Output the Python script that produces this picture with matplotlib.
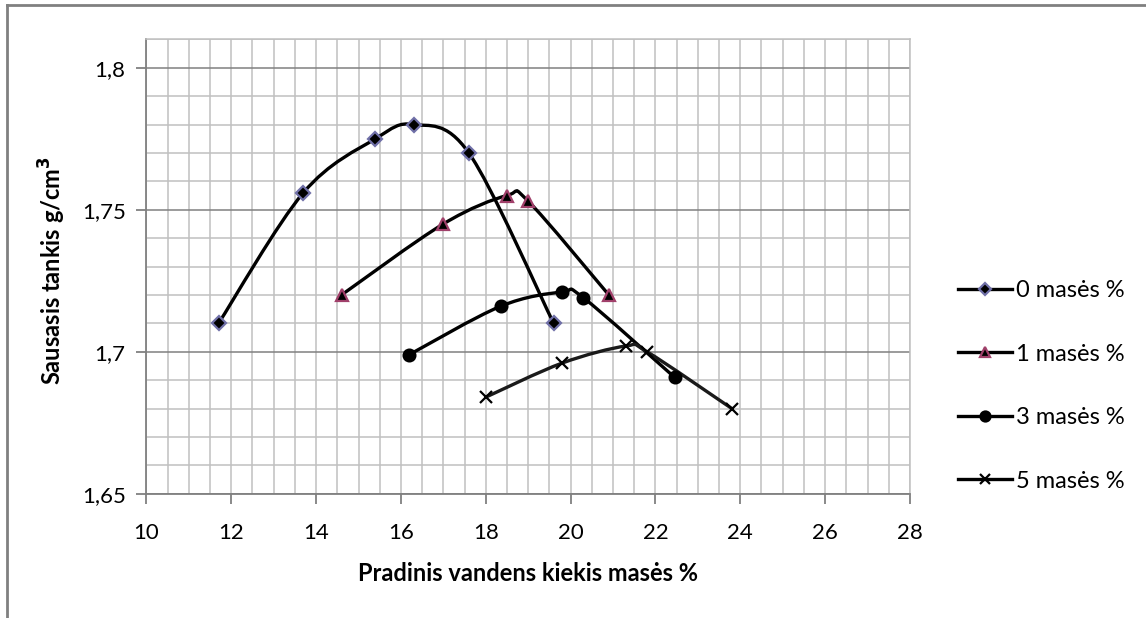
import matplotlib
matplotlib.use('Agg')
import matplotlib.pyplot as plt
import numpy as np
from matplotlib.path import Path
from matplotlib.patches import PathPatch
from matplotlib.lines import Line2D
from matplotlib.ticker import MultipleLocator, FuncFormatter

plt.rcParams['font.family'] = ['Lato', 'DejaVu Sans']

# pradiniai duomenys
x0 = [11.7, 13.7, 15.4, 16.3, 17.6, 19.6]
y0 = [1.710, 1.756, 1.775, 1.780, 1.770, 1.710]
x1 = [14.6, 17.0, 18.5, 19.0, 20.9]
y1 = [1.720, 1.745, 1.755, 1.753, 1.720]
x3 = [16.2, 18.35, 19.8, 20.3, 22.45]
y3 = [1.699, 1.716, 1.721, 1.719, 1.691]
x5 = [18.0, 19.8, 21.3, 21.8, 23.8]
y5 = [1.684, 1.696, 1.702, 1.700, 1.680]
labels = ['0 masės %', '1 masės %', '3 masės %', '5 masės %']


def smooth_path(xs, ys):
    # glotni kreive kaip excel'yje (bezier per taskus)
    p = np.column_stack([xs, ys])
    n = len(p)
    verts = [p[0]]
    codes = [Path.MOVETO]
    for i in range(n - 1):
        pm = p[i - 1] if i > 0 else p[i]
        pp = p[i + 2] if i + 2 < n else p[i + 1]
        c1 = p[i] + (p[i + 1] - pm) / 6.0
        c2 = p[i + 1] - (pp - p[i]) / 6.0
        verts += [c1, c2, p[i + 1]]
        codes += [Path.CURVE4] * 3
    return Path(verts, codes)


fig = plt.figure(figsize=(11.46, 6.18), dpi=100)
ax = fig.add_axes([0.1278, 0.2011, 0.6662, 0.7353])

ax.set_xlim(10, 28)
ax.set_ylim(1.65, 1.81)
ax.xaxis.set_major_locator(MultipleLocator(2))
ax.xaxis.set_minor_locator(MultipleLocator(0.5))
ax.yaxis.set_major_locator(MultipleLocator(0.05))
ax.yaxis.set_minor_locator(MultipleLocator(0.01))
ax.yaxis.set_major_formatter(FuncFormatter(lambda v, p: ('%g' % round(v, 3)).replace('.', ',')))

ax.grid(which='minor', color='#c0c0c0', linewidth=1.1)
ax.grid(which='major', axis='x', color='#c0c0c0', linewidth=1.1)
ax.grid(which='major', axis='y', color='#808080', linewidth=1.1)
ax.set_axisbelow(True)
for s in ['left', 'bottom']:
    ax.spines[s].set_color('#808080')
    ax.spines[s].set_linewidth(1.3)
for s in ['top', 'right']:
    ax.spines[s].set_color('#c0c0c0')
    ax.spines[s].set_linewidth(1.1)
ax.tick_params(which='major', direction='out', length=7, width=1.3, color='#808080', labelsize=16)
ax.tick_params(which='minor', length=0)
ax.tick_params(axis='x', pad=14)
ax.tick_params(axis='y', pad=8)

ax.set_xlabel('Pradinis vandens kiekis masės %', fontsize=17, fontweight='bold', labelpad=14)
fig.text(52 / 1146, 1 - 270 / 618, 'Sausasis tankis g/cm$^\\mathbf{3}$', rotation=90,
         fontsize=17, fontweight='bold', ha='center', va='center')

series = [(x0, y0, 'D', 'black', '#7070a8', 7.5, '#000000'),
          (x1, y1, '^', 'black', '#a0406a', 9, '#000000'),
          (x3, y3, 'o', 'black', 'black', 8.5, '#000000'),
          (x5, y5, 'x', 'black', 'black', 8, '#1a1a1a')]

handles = []
for (xs, ys, m, fc, ec, ms, lc), lab in zip(series, labels):
    ax.add_patch(PathPatch(smooth_path(xs, ys), fill=False, edgecolor=lc, linewidth=2.4,
                           capstyle='round', joinstyle='round', zorder=3))
    ax.plot(xs, ys, linestyle='none', marker=m, markersize=ms, markerfacecolor=fc,
            markeredgecolor=ec, markeredgewidth=1.6, zorder=4)
    handles.append(Line2D([], [], color='black', linewidth=2.4, marker=m, markersize=ms * 0.85,
                          markerfacecolor=fc, markeredgecolor=ec, markeredgewidth=1.6))

fig.legend(handles, labels, loc='center left', bbox_to_anchor=(958 / 1146, 1 - 386 / 618),
           frameon=False, fontsize=17, handlelength=2.3, handletextpad=0.15,
           labelspacing=1.8, borderpad=0, borderaxespad=0)

# remelis aplink diagrama
fig.add_artist(Line2D([7 / 1146, 7 / 1146], [0, 1 - 5 / 618], color='#808080', linewidth=2,
                      transform=fig.transFigure))
fig.add_artist(Line2D([7 / 1146, 1], [1 - 5 / 618, 1 - 5 / 618], color='#808080', linewidth=2,
                      transform=fig.transFigure))

fig.savefig('out.png', dpi=100)
